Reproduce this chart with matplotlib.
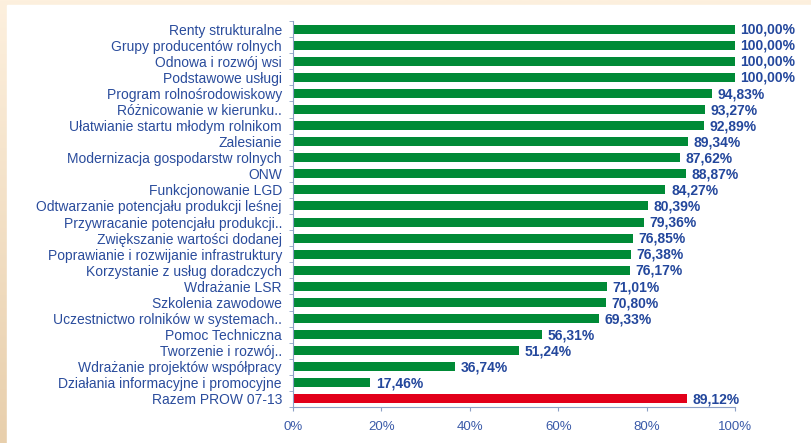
import numpy as np
import matplotlib.pyplot as plt
from matplotlib.patches import Rectangle

# measures, top to bottom as in the chart
labels = [
    "Renty strukturalne",
    "Grupy producentów rolnych",
    "Odnowa i rozwój wsi",
    "Podstawowe usługi",
    "Program rolnośrodowiskowy",
    "Różnicowanie w kierunku..",
    "Ułatwianie startu młodym rolnikom",
    "Zalesianie",
    "Modernizacja gospodarstw rolnych",
    "ONW",
    "Funkcjonowanie LGD",
    "Odtwarzanie potencjału produkcji leśnej",
    "Przywracanie potencjału produkcji..",
    "Zwiększanie wartości dodanej",
    "Poprawianie i rozwijanie infrastruktury",
    "Korzystanie z usług doradczych",
    "Wdrażanie LSR",
    "Szkolenia zawodowe",
    "Uczestnictwo rolników w systemach..",
    "Pomoc Techniczna",
    "Tworzenie i rozwój..",
    "Wdrażanie projektów współpracy",
    "Działania informacyjne i promocyjne",
    "Razem PROW 07-13",
]
values = [100.00, 100.00, 100.00, 100.00, 94.83, 93.27, 92.89, 89.34, 87.62,
          88.87, 84.27, 80.39, 79.36, 76.85, 76.38, 76.17, 71.01, 70.80,
          69.33, 56.31, 51.24, 36.74, 17.46, 89.12]
xticks = [0, 20, 40, 60, 80, 100]

green = "#008A36"
red = "#E2001A"
lab_col = "#2A4C9C"
val_col = "#23479C"
axis_col = "#8CA0C6"

plt.rcParams["font.family"] = ["Liberation Sans", "DejaVu Sans"]

fig = plt.figure(figsize=(8.11, 4.43), dpi=100)

# beige frame with white panel behind everything
bg = fig.add_axes([0, 0, 1, 1], zorder=-1)
grad = np.linspace(0, 1, 256).reshape(-1, 1)
top_c = np.array([253, 240, 222]) / 255
bot_c = np.array([232, 207, 172]) / 255
img = top_c + grad[..., None] * (bot_c - top_c)
bg.imshow(img, aspect="auto", extent=[0, 1, 0, 1])
bg.add_patch(Rectangle((7 / 811, 0), 1, 1 - 5 / 443, color="white"))
bg.set_xlim(0, 1)
bg.set_ylim(0, 1)
bg.axis("off")

ax = fig.add_axes([293 / 811, 1 - 407 / 443, 442 / 811, 386 / 443])
ax.set_facecolor("none")

n = len(labels)
y = np.arange(n)
colors = [green] * (n - 1) + [red]
ax.barh(y, values, height=0.56, color=colors, zorder=2)

for yi, v in zip(y, values):
    ax.annotate(f"{v:.2f}%".replace(".", ","), (v, yi), xytext=(4, -0.5),
                textcoords="offset points", va="center", ha="left",
                fontsize=10, fontweight="bold", color=val_col)

ax.set_ylim(n - 0.5, -0.5)
ax.set_xlim(0, 100)
ax.set_yticks(y)
ax.set_yticklabels(labels, fontsize=10, color=lab_col)
ax.set_yticks(np.arange(-0.5, n, 1), minor=True)
ax.tick_params(axis="y", which="major", length=0, pad=8)
ax.tick_params(axis="y", which="minor", length=3, color=axis_col)
ax.set_xticks(xticks)
ax.set_xticklabels([f"{t}%" for t in xticks], fontsize=9.5, color="#3A5AA8")
ax.tick_params(axis="x", length=3, color=axis_col, pad=7)

for s in ["top", "right"]:
    ax.spines[s].set_visible(False)
for s in ["left", "bottom"]:
    ax.spines[s].set_color(axis_col)

plt.savefig("out.png", dpi=100)
